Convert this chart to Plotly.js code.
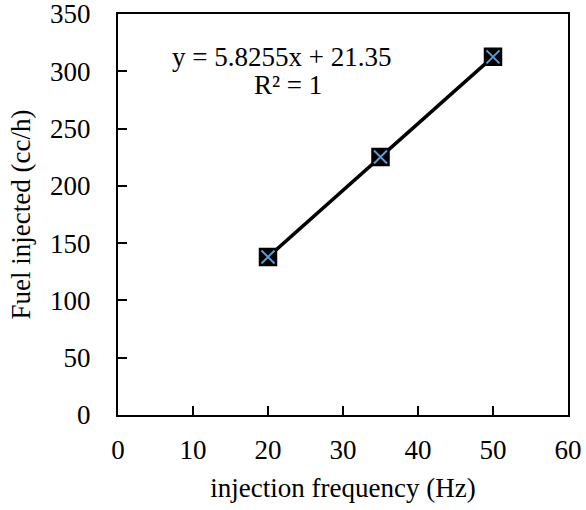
<!DOCTYPE html>
<html><head><meta charset="utf-8">
<script src="https://cdn.plot.ly/plotly-3.0.1.min.js"></script>
<style>body{margin:0;background:#fff}#c{width:586px;height:510px}</style>
</head><body><div id="c"></div>
<script>
const freq = [20, 35, 50];
const fuel = [137.9, 225.2, 312.6];
const slope = 5.8255, intercept = 21.35;
const trendX = [20, 50];
const trendY = trendX.map(x => slope * x + intercept);
const xTicks = [0, 10, 20, 30, 40, 50, 60];
const yTicks = [0, 50, 100, 150, 200, 250, 300, 350];
const font = {family: 'Liberation Serif, Times New Roman, serif', size: 27, color: '#000'};
const data = [
  {x: trendX, y: trendY, mode: 'lines', line: {color: '#000', width: 3.5}, hoverinfo: 'skip', showlegend: false},
  {x: freq, y: fuel, mode: 'markers', showlegend: false,
   marker: {symbol: 'square', size: 17, color: '#000', line: {color: '#000', width: 1.5}}},
  {x: freq, y: fuel, mode: 'markers', showlegend: false, hoverinfo: 'skip',
   marker: {symbol: 'x-thin', size: 13, color: '#5b9bd5', line: {color: '#5b9bd5', width: 2}}}
];
const layout = {
  width: 586, height: 510, paper_bgcolor: '#fff', plot_bgcolor: '#fff',
  margin: {l: 118, r: 18, t: 14, b: 95},
  font: font, showlegend: false,
  xaxis: {range: [0, 60], tickvals: xTicks, ticks: 'inside', ticklen: 9, tickwidth: 1.5, tickcolor: '#000',
    showline: true, linecolor: '#000', linewidth: 2, mirror: true, showgrid: false, zeroline: false,
    ticklabeloverflow: 'allow', ticklabelstandoff: 10,
    tickfont: font, title: {text: 'injection frequency (Hz)', font: font, standoff: 14}},
  yaxis: {range: [0, 350], tickvals: yTicks, ticks: 'inside', ticklen: 9, tickwidth: 1.5, tickcolor: '#000',
    showline: true, linecolor: '#000', linewidth: 2, mirror: true, showgrid: false, zeroline: false,
    ticklabeloverflow: 'allow',
    tickfont: font, ticklabelstandoff: 20, title: {text: 'Fuel injected (cc/h)', font: font, standoff: 12}},
  annotations: [
    {xref: 'paper', yref: 'paper', x: 0.363, y: 0.892, yanchor: 'middle', text: 'y = 5.8255x + 21.35', showarrow: false, font: font, xanchor: 'center'},
    {xref: 'paper', yref: 'paper', x: 0.377, y: 0.822, yanchor: 'middle', text: 'R² = 1', showarrow: false, font: font, xanchor: 'center'}
  ]
};
Plotly.newPlot('c', data, layout, {displayModeBar: false});
</script></body></html>
